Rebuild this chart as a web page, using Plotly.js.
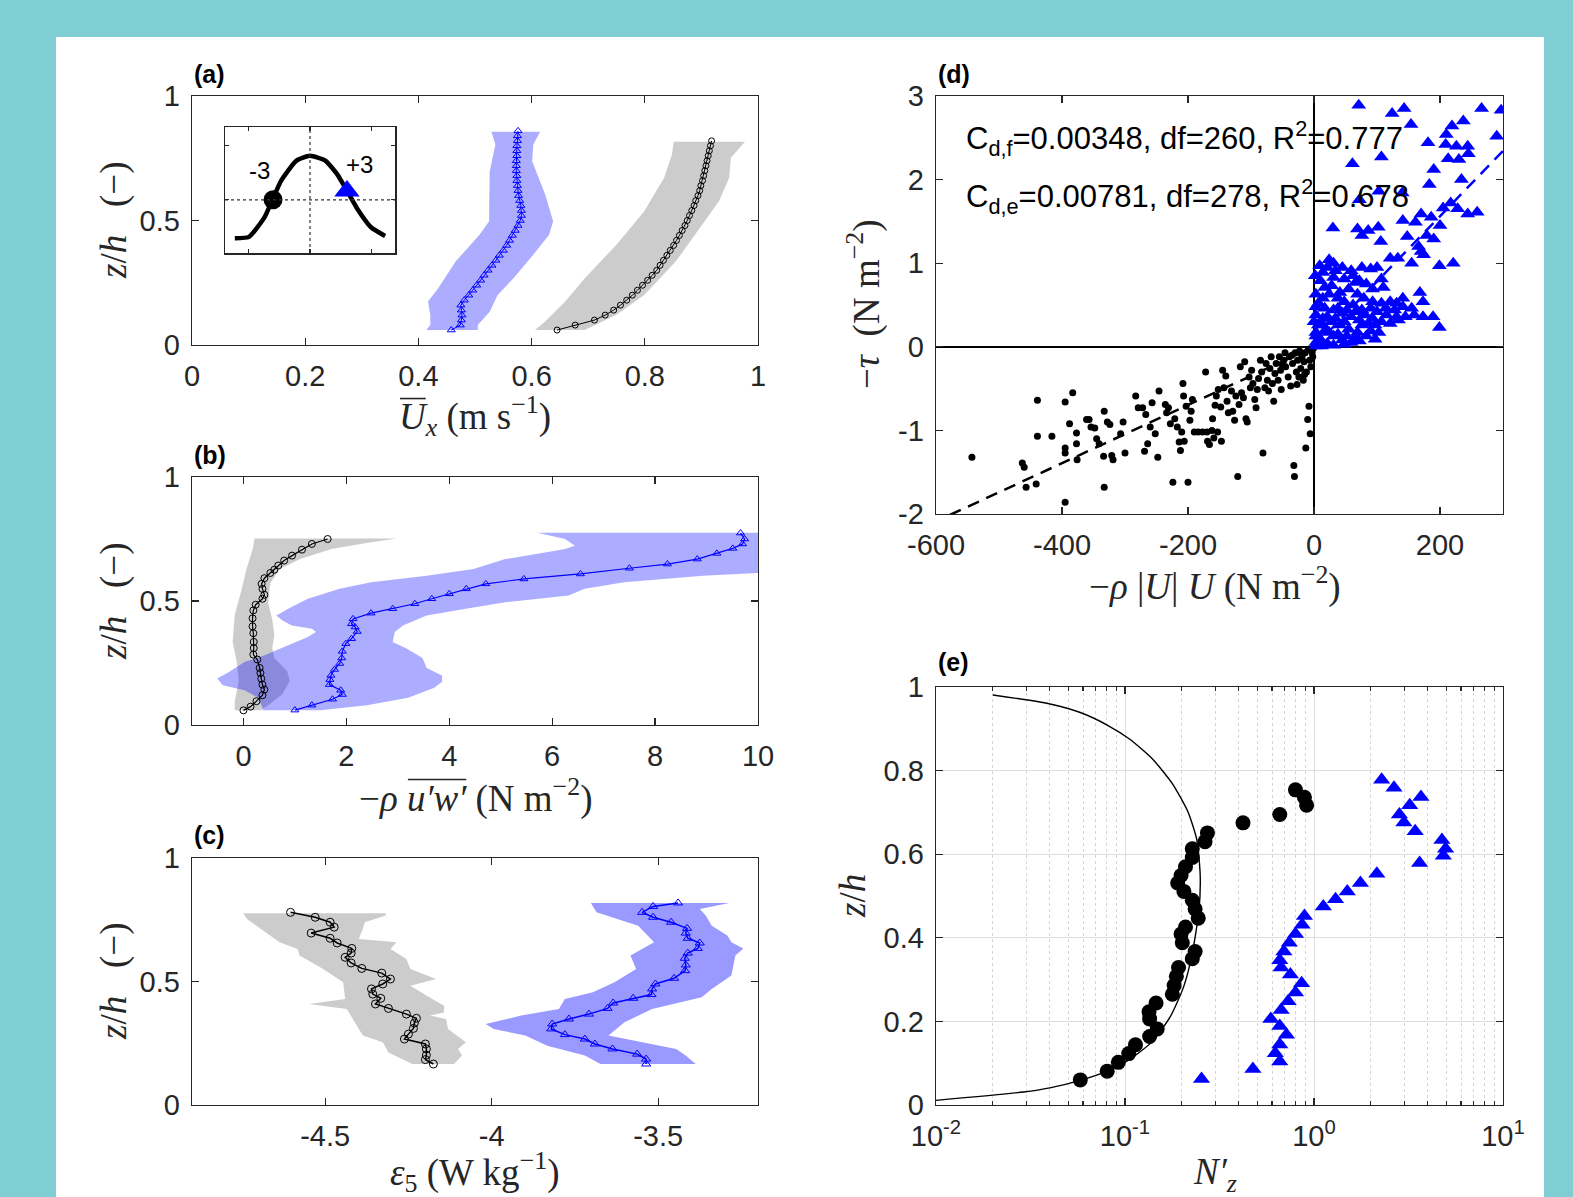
<!DOCTYPE html>
<html><head><meta charset="utf-8">
<script src="https://cdn.plot.ly/plotly-3.0.1.min.js"></script>
<style>html,body{margin:0;padding:0;background:#7fced4;overflow:hidden}</style>
</head><body><div id="chart" style="width:1573px;height:1197px"></div>
<script>
// ---------------- DATA ----------------
// Panel (a): mean streamwise velocity profiles, pairs [z/h, Ux]
const aBlack = [[0.06,0.645],[0.08,0.677],[0.10,0.711],[0.12,0.730],[0.14,0.745],[0.16,0.757],[0.18,0.768],[0.20,0.778],[0.22,0.787],[0.24,0.796],[0.26,0.805],[0.28,0.813],[0.30,0.821],[0.32,0.827],[0.34,0.833],[0.36,0.839],[0.38,0.845],[0.40,0.851],[0.42,0.856],[0.44,0.861],[0.46,0.866],[0.48,0.871],[0.50,0.875],[0.52,0.879],[0.54,0.883],[0.56,0.887],[0.58,0.890],[0.60,0.894],[0.62,0.897],[0.64,0.899],[0.66,0.902],[0.68,0.904],[0.70,0.906],[0.72,0.908],[0.74,0.910],[0.76,0.912],[0.78,0.914],[0.80,0.916],[0.82,0.918]];
const aBlue = [[0.06,0.458],[0.08,0.474],[0.10,0.476],[0.12,0.477],[0.14,0.476],[0.16,0.475],[0.18,0.481],[0.20,0.489],[0.22,0.496],[0.24,0.503],[0.26,0.510],[0.28,0.516],[0.30,0.523],[0.32,0.530],[0.34,0.537],[0.36,0.543],[0.38,0.550],[0.40,0.556],[0.42,0.561],[0.44,0.566],[0.46,0.571],[0.48,0.576],[0.50,0.580],[0.52,0.582],[0.54,0.582],[0.56,0.581],[0.58,0.579],[0.60,0.577],[0.62,0.576],[0.64,0.575],[0.66,0.574],[0.68,0.574],[0.70,0.573],[0.72,0.573],[0.74,0.573],[0.76,0.574],[0.78,0.574],[0.80,0.574],[0.82,0.575],[0.84,0.575],[0.86,0.576]];
const aGrayLo = [[0.06,0.606],[0.094,0.624],[0.174,0.659],[0.268,0.694],[0.403,0.750],[0.537,0.799],[0.671,0.834],[0.765,0.848],[0.816,0.851]];
const aGrayHi = [[0.06,0.694],[0.121,0.750],[0.201,0.799],[0.336,0.855],[0.470,0.897],[0.577,0.931],[0.671,0.949],[0.752,0.952],[0.816,0.977]];
const aBlueLo = [[0.06,0.414],[0.08,0.421],[0.12,0.421],[0.175,0.417],[0.228,0.435],[0.336,0.466],[0.443,0.508],[0.497,0.525],[0.55,0.525],[0.698,0.526],[0.805,0.536],[0.856,0.529]];
const aBlueHi = [[0.06,0.505],[0.08,0.505],[0.134,0.526],[0.201,0.540],[0.268,0.568],[0.362,0.603],[0.443,0.631],[0.497,0.638],[0.604,0.624],[0.738,0.601],[0.805,0.603],[0.856,0.615]];
// Inset of (a): tidal signal, pairs [t, value]
const insetCurve = [[-6.1,-0.88],[-4.95,-0.85],[-3.71,-0.41],[-3.08,-0.02],[-2.34,0.44],[-1.1,0.9],[0,1.01],[1.24,0.9],[2.2,0.59],[3.08,0.17],[3.85,-0.21],[4.95,-0.63],[6.1,-0.83]];
const insetFlood = [[-3,0.0]];
const insetEbb = [[3,0.2]];
const insetLabels = ['-3','+3'];

// Panel (b): Reynolds stress, pairs [z/h, -rho u'w']
const bBlack = [[0.059,0.0],[0.074,0.138],[0.096,0.253],[0.12,0.369],[0.143,0.407],[0.163,0.369],[0.187,0.346],[0.21,0.33],[0.23,0.315],[0.264,0.269],[0.284,0.192],[0.31,0.2],[0.335,0.2],[0.37,0.192],[0.398,0.177],[0.43,0.177],[0.462,0.192],[0.485,0.238],[0.509,0.369],[0.525,0.407],[0.549,0.369],[0.569,0.353],[0.592,0.407],[0.613,0.522],[0.626,0.6],[0.643,0.676],[0.663,0.791],[0.683,0.945],[0.707,1.137],[0.73,1.33],[0.75,1.636]];
const bBlue = [[0.06,1.0],[0.08,1.33],[0.104,1.73],[0.123,1.92],[0.14,1.89],[0.163,1.67],[0.183,1.68],[0.2,1.70],[0.224,1.77],[0.248,1.87],[0.27,1.91],[0.297,1.92],[0.328,1.99],[0.348,2.1],[0.377,2.21],[0.395,2.17],[0.408,2.1],[0.428,2.13],[0.451,2.48],[0.469,2.9],[0.489,3.33],[0.509,3.66],[0.529,4.0],[0.549,4.33],[0.569,4.71],[0.589,5.45],[0.609,6.55],[0.632,7.5],[0.649,8.24],[0.669,8.82],[0.692,9.2],[0.712,9.51],[0.73,9.7],[0.75,9.74],[0.774,9.66]];
const bGrayLo = [[0.059,-0.17],[0.096,-0.17],[0.177,-0.09],[0.254,-0.13],[0.335,-0.21],[0.444,-0.17],[0.535,-0.05],[0.629,0.06],[0.71,0.18],[0.752,0.215]];
const bGrayHi = [[0.059,0.33],[0.083,0.5],[0.123,0.75],[0.177,0.9],[0.217,0.85],[0.27,0.6],[0.31,0.56],[0.364,0.6],[0.425,0.56],[0.492,0.48],[0.572,0.52],[0.629,0.71],[0.669,1.1],[0.71,1.71],[0.737,2.48],[0.752,2.98]];
const bBlueLo = [[0.059,0.37],[0.07,0.37],[0.11,0.29],[0.14,0.02],[0.16,-0.4],[0.187,-0.51],[0.214,-0.28],[0.254,0.02],[0.281,0.41],[0.308,0.71],[0.335,1.02],[0.355,1.25],[0.375,1.41],[0.388,1.33],[0.401,0.94],[0.422,0.75],[0.442,0.64],[0.469,0.87],[0.509,1.25],[0.549,1.87],[0.576,2.48],[0.602,3.56],[0.629,4.47],[0.669,5.09],[0.696,5.86],[0.71,6.25],[0.723,6.44],[0.75,6.25],[0.775,5.71]];
const bBlueHi = [[0.059,1.5],[0.08,2.4],[0.11,3.2],[0.15,3.71],[0.174,3.86],[0.2,3.86],[0.23,3.56],[0.27,3.48],[0.308,3.17],[0.335,2.9],[0.375,2.94],[0.401,3.1],[0.442,3.56],[0.469,4.32],[0.495,5.09],[0.522,6.32],[0.549,6.63],[0.576,7.4],[0.602,8.93],[0.616,10.3],[0.775,10.3]];

// Panel (c): dissipation, pairs [z/h, eps]
const cBlack = [[0.166,-4.175],[0.184,-4.199],[0.202,-4.196],[0.227,-4.196],[0.247,-4.199],[0.267,-4.262],[0.287,-4.250],[0.31,-4.235],[0.332,-4.232],[0.351,-4.226],[0.368,-4.256],[0.391,-4.310],[0.409,-4.349],[0.432,-4.333],[0.449,-4.357],[0.47,-4.361],[0.49,-4.327],[0.51,-4.304],[0.534,-4.330],[0.553,-4.390],[0.575,-4.422],[0.598,-4.440],[0.615,-4.422],[0.634,-4.420],[0.656,-4.464],[0.675,-4.485],[0.696,-4.542],[0.72,-4.473],[0.74,-4.485],[0.76,-4.530],[0.78,-4.604]];
const cBlue = [[0.166,-3.536],[0.186,-3.536],[0.206,-3.563],[0.227,-3.637],[0.247,-3.690],[0.267,-3.720],[0.285,-3.780],[0.308,-3.821],[0.328,-3.818],[0.348,-3.768],[0.368,-3.708],[0.391,-3.652],[0.413,-3.635],[0.432,-3.575],[0.447,-3.520],[0.47,-3.518],[0.49,-3.508],[0.513,-3.452],[0.544,-3.419],[0.567,-3.417],[0.594,-3.420],[0.615,-3.411],[0.634,-3.381],[0.656,-3.375],[0.675,-3.411],[0.696,-3.417],[0.715,-3.413],[0.74,-3.461],[0.76,-3.515],[0.78,-3.548],[0.804,-3.515],[0.818,-3.440]];
const cGrayLo = [[0.166,-4.238],[0.213,-4.31],[0.254,-4.327],[0.281,-4.387],[0.335,-4.411],[0.389,-4.435],[0.409,-4.548],[0.429,-4.44],[0.497,-4.446],[0.551,-4.506],[0.605,-4.577],[0.632,-4.583],[0.659,-4.637],[0.699,-4.679],[0.753,-4.735],[0.776,-4.746]];
const cGrayHi = [[0.166,-4.113],[0.2,-4.089],[0.227,-4.101],[0.254,-4.077],[0.308,-4.131],[0.348,-4.137],[0.362,-4.185],[0.375,-4.143],[0.402,-4.143],[0.443,-4.196],[0.483,-4.244],[0.51,-4.167],[0.551,-4.244],[0.591,-4.256],[0.632,-4.304],[0.659,-4.286],[0.672,-4.399],[0.713,-4.387],[0.74,-4.381],[0.767,-4.318],[0.776,-4.318]];
const cBlueLo = [[0.166,-3.673],[0.2,-3.720],[0.24,-3.833],[0.281,-3.899],[0.308,-3.994],[0.328,-4.018],[0.362,-3.911],[0.389,-3.798],[0.429,-3.780],[0.456,-3.696],[0.497,-3.631],[0.551,-3.566],[0.605,-3.583],[0.659,-3.512],[0.726,-3.560],[0.78,-3.685],[0.818,-3.702]];
const cBlueHi = [[0.166,-3.387],[0.2,-3.417],[0.227,-3.446],[0.281,-3.649],[0.335,-3.601],[0.389,-3.518],[0.436,-3.369],[0.47,-3.339],[0.524,-3.280],[0.564,-3.274],[0.605,-3.268],[0.634,-3.244],[0.659,-3.280],[0.686,-3.292],[0.726,-3.339],[0.767,-3.357],[0.794,-3.375],[0.818,-3.286]];

// Panel (d): stress vs quadratic drag, pairs [-rho|U|U, -tau]
const dFlood = [[-543,-1.32],[-439,-0.64],[-439,-1.07],[-463,-1.39],[-460,-1.44],[-457,-1.68],[-441,-1.64],[-416,-1.07],[-395,-0.66],[-395,-1.86],[-395,-1.27],[-395,-1.21],[-388,-0.92],[-383,-0.55],[-377,-1.03],[-377,-1.16],[-376,-1.35],[-361,-0.87],[-357,-0.87],[-354,-0.96],[-348,-0.97],[-345,-1.10],[-341,-1.16],[-334,-1.31],[-333,-0.77],[-333,-1.68],[-328,-0.90],[-324,-0.93],[-321,-1.30],[-319,-1.35],[-307,-1.04],[-303,-0.90],[-300,-1.27],[-283,-0.59],[-279,-0.73],[-272,-0.73],[-269,-1.25],[-267,-0.81],[-264,-1.16],[-260,-0.96],[-257,-0.67],[-252,-1.04],[-248,-1.32],[-246,-0.53],[-236,-0.69],[-234,-0.79],[-231,-0.73],[-228,-0.92],[-224,-1.62],[-221,-0.86],[-217,-0.96],[-214,-1.14],[-212,-1.24],[-210,-1.02],[-208,-0.44],[-207,-0.59],[-206,-1.13],[-203,-0.71],[-200,-1.62],[-197,-0.88],[-195,-0.77],[-193,-0.63],[-190,-1.02],[-184,-1.02],[-177,-1.02],[-172,-0.30],[-170,-1.02],[-169,-1.13],[-166,-1.17],[-162,-1.00],[-161,-0.86],[-159,-1.09],[-157,-0.70],[-155,-0.59],[-153,-1.02],[-152,-0.51],[-148,-0.72],[-147,-1.13],[-145,-0.28],[-143,-0.49],[-140,-0.35],[-138,-0.65],[-136,-0.79],[-131,-0.53],[-129,-0.77],[-126,-0.88],[-124,-0.59],[-121,-1.55],[-119,-0.69],[-117,-0.24],[-115,-0.55],[-112,-0.61],[-110,-0.18],[-108,-0.86],[-106,-0.90],[-103,-0.36],[-101,-0.49],[-99,-0.28],[-97,-0.44],[-94,-0.63],[-92,-0.73],[-90,-0.51],[-88,-0.38],[-85,-0.16],[-83,-0.30],[-81,-1.27],[-78,-0.49],[-76,-0.20],[-74,-0.40],[-72,-0.53],[-70,-0.26],[-68,-0.12],[-66,-0.44],[-64,-0.65],[-62,-0.32],[-60,-0.20],[-57,-0.40],[-55,-0.12],[-53,-0.28],[-52,-0.51],[-48,-0.16],[-46,-0.07],[-45,-0.24],[-41,-0.36],[-39,-0.12],[-37,-0.47],[-34,-0.20],[-32,-1.42],[-31,-1.55],[-30,-0.07],[-28,-0.30],[-26,-0.16],[-24,-0.36],[-23,-0.05],[-21,-0.26],[-19,-0.12],[-17,-0.40],[-16,-0.18],[-14,-0.07],[-13,-1.21],[-12,-0.30],[-10,-0.87],[-9,-0.03],[-8,-0.71],[-7,-0.16],[-6,-1.04],[-5,-0.24],[-3,-0.07],[-2,-0.12],[-1,-0.02],[-20,-0.09],[-35,-0.1],[-50,-0.22],[-15,-0.33],[-27,-0.45]];
const dEbb = [[71,2.89],[124,2.79],[143,2.85],[154,2.66],[266,2.85],[297,2.83],[210,2.54],[219,2.64],[237,2.70],[290,2.52],[181,2.44],[209,2.42],[226,2.40],[244,2.40],[245,2.31],[213,2.25],[230,2.24],[107,2.27],[61,2.19],[190,2.12],[234,2.00],[183,1.94],[140,1.84],[103,1.86],[72,1.76],[217,1.72],[205,1.66],[228,1.65],[244,1.59],[259,1.61],[170,1.59],[186,1.55],[141,1.51],[161,1.49],[200,1.45],[30,1.42],[69,1.41],[86,1.39],[102,1.43],[106,1.26],[76,1.33],[148,1.32],[179,1.33],[190,1.29],[166,1.20],[170,1.14],[155,1.00],[121,1.06],[133,1.06],[174,1.10],[199,0.97],[221,1.00],[2,0.85],[14,0.89],[24,1.04],[31,1.00],[45,0.95],[59,0.91],[76,0.95],[90,0.93],[100,0.95],[10,0.79],[31,0.83],[48,0.81],[66,0.77],[83,0.75],[107,0.81],[110,0.71],[93,0.69],[69,0.63],[79,0.58],[93,0.54],[107,0.52],[121,0.54],[131,0.52],[141,0.48],[155,0.46],[168,0.65],[173,0.54],[159,0.38],[173,0.36],[189,0.36],[199,0.23],[145,0.36],[131,0.36],[115,0.38],[100,0.42],[90,0.46],[76,0.44],[62,0.50],[48,0.54],[38,0.58],[24,0.63],[14,0.58],[7,0.52],[17,0.46],[31,0.44],[45,0.40],[59,0.36],[72,0.32],[86,0.28],[97,0.26],[103,0.17],[97,0.09],[83,0.13],[69,0.17],[55,0.21],[41,0.26],[28,0.30],[14,0.34],[3,0.38],[7,0.26],[17,0.19],[31,0.13],[45,0.08],[59,0.05],[72,0.07],[10,0.09],[3,0.05],[21,0.04],[3,0.17],[10,0.28],[21,0.36],[34,0.34],[48,0.30],[3,0.48],[17,0.71],[28,0.73],[3,0.63],[38,0.46],[52,0.44],[66,0.42],[76,0.26],[90,0.19],[114,0.46],[128,0.44],[141,0.58],[41,0.65],[55,0.69],[62,0.85],[72,0.79],[34,0.91],[21,0.95],[9,0.97],[14,0.26],[0,0.30],[24,0.17],[38,0.15],[52,0.13],[66,0.11],[93,0.34],[107,0.30],[121,0.28],[134,0.32],[81,0.38],[3,0.13],[12,0.01],[31,0.02],[48,0.03],[3,0.01]];
const CdFlood = 0.00348, CdEbb = 0.00781;
const fitFloodX = [-578, 0], fitEbbX = [0, 300];
const dStats = ['C<sub>d,f</sub>=0.00348, df=260, R<sup>2</sup>=0.777', 'C<sub>d,e</sub>=0.00781, df=278, R<sup>2</sup>=0.678'];

// Panel (e): normalized buoyancy frequency, pairs [N'z, z/h]
const eModel = [[0.01,0.011],[0.029,0.031],[0.04,0.041],[0.058,0.059],[0.0805,0.081],[0.105,0.108],[0.139,0.151],[0.173,0.21],[0.204,0.282],[0.227,0.363],[0.246,0.464],[0.25,0.549],[0.24,0.634],[0.215,0.702],[0.178,0.769],[0.139,0.829],[0.106,0.875],[0.0805,0.909],[0.058,0.939],[0.0396,0.960],[0.02,0.981]];
const eFlood = [[0.058,0.060],[0.0805,0.081],[0.0922,0.102],[0.1047,0.123],[0.1136,0.144],[0.135,0.164],[0.148,0.182],[0.135,0.206],[0.134,0.223],[0.146,0.244],[0.178,0.265],[0.182,0.286],[0.187,0.308],[0.192,0.329],[0.227,0.35],[0.235,0.367],[0.201,0.388],[0.198,0.409],[0.209,0.426],[0.244,0.447],[0.235,0.469],[0.227,0.49],[0.205,0.511],[0.190,0.531],[0.198,0.549],[0.209,0.570],[0.227,0.592],[0.227,0.613],[0.265,0.63],[0.273,0.651],[0.421,0.675],[0.659,0.695],[0.914,0.717],[0.89,0.736],[0.798,0.754]];
const eEbb = [[0.254,0.062],[0.475,0.086],[0.659,0.104],[0.624,0.124],[0.659,0.145],[0.715,0.168],[0.659,0.189],[0.591,0.206],[0.67,0.227],[0.73,0.248],[0.798,0.269],[0.86,0.291],[0.75,0.312],[0.67,0.329],[0.659,0.346],[0.693,0.367],[0.74,0.388],[0.798,0.409],[0.865,0.431],[0.89,0.452],[1.12,0.475],[1.30,0.492],[1.50,0.511],[1.76,0.531],[2.15,0.553],[3.62,0.579],[4.83,0.596],[4.97,0.613],[4.75,0.634],[3.43,0.655],[2.99,0.676],[2.83,0.695],[3.21,0.717],[3.68,0.737],[2.65,0.759],[2.28,0.778]];

// Tick values / labels
const zTicks = [0, 0.5, 1], zTickText = ['0', '0.5', '1'];
const aTicks = [0, 0.2, 0.4, 0.6, 0.8, 1], aTickText = ['0', '0.2', '0.4', '0.6', '0.8', '1'];
const bTicks = [0, 2, 4, 6, 8, 10], bTickText = ['0', '2', '4', '6', '8', '10'];
const cTicks = [-4.5, -4, -3.5], cTickText = ['-4.5', '-4', '-3.5'];
const dXTicks = [-600, -400, -200, 0, 200], dXTickText = ['-600', '-400', '-200', '0', '200'];
const dYTicks = [-2, -1, 0, 1, 2, 3], dYTickText = ['-2', '-1', '0', '1', '2', '3'];
const eXTicks = [0.01, 0.1, 1, 10], eXTickText = ['10<sup>-2</sup>', '10<sup>-1</sup>', '10<sup>0</sup>', '10<sup>1</sup>'];
const eYTicks = [0, 0.2, 0.4, 0.6, 0.8, 1], eYTickText = ['0', '0.2', '0.4', '0.6', '0.8', '1'];
const insetXTicks = [-5, 0, 5], insetYTicks = [0, 1.25];
const panelLabels = ['(a)', '(b)', '(c)', '(d)', '(e)'];

// ---------------- LAYOUT HELPERS ----------------
const W = 1573, H = 1197;
const PX = v => v / W, PY = v => 1 - v / H;
const box = {
  a: {x: [192, 758], y: [96, 345]},
  b: {x: [192, 758], y: [477, 725]},
  c: {x: [192, 758], y: [858, 1105]},
  d: {x: [936, 1503], y: [96, 514]},
  e: {x: [936, 1503], y: [687, 1105]},
  i: {x: [225, 395], y: [127, 253]}
};
const domX = k => [PX(box[k].x[0]), PX(box[k].x[1])];
const domY = k => [PY(box[k].y[1]), PY(box[k].y[0])];

const INK = '#262626';
const TICKFONT = {family: 'Liberation Sans, Arial, Helvetica, sans-serif', size: 29, color: INK};
function axis(extra) {
  return Object.assign({
    showline: true, mirror: 'ticks', linecolor: INK, linewidth: 1.3,
    ticks: 'inside', ticklen: 7, tickwidth: 1.2, tickcolor: INK,
    showgrid: false, zeroline: false, tickfont: TICKFONT, fixedrange: true,
    tickmode: 'array', ticklabelstandoff: 5
  }, extra);
}
const colX = (arr, i) => arr.map(p => p[i]);
function band(lo, hi) {
  const pts = lo.concat(hi.slice().reverse());
  return {x: colX(pts, 1), y: colX(pts, 0)};
}
const BLUE = '#0000ff';
function bandTrace(lo, hi, color, xa, ya) {
  const b = band(lo, hi);
  return {x: b.x, y: b.y, xaxis: xa, yaxis: ya, type: 'scatter', mode: 'lines', fill: 'toself',
    fillcolor: color, line: {width: 0, color: color}, hoverinfo: 'skip', showlegend: false};
}
function profTrace(data, sym, color, size, lw, xa, ya) {
  return {x: colX(data, 1), y: colX(data, 0), xaxis: xa, yaxis: ya, type: 'scatter', mode: 'lines+markers',
    line: {color: color, width: lw}, marker: {symbol: sym, size: size, color: color, line: {color: color, width: 1}},
    showlegend: false};
}

const GRAYF = 'rgba(128,128,128,0.40)';
const BLUEF = 'rgba(0,0,255,0.32)';
const BLUEF_C = 'rgba(0,0,255,0.40)';

const traces = [
  // (a)
  bandTrace(aGrayLo, aGrayHi, GRAYF, 'x', 'y'),
  bandTrace(aBlueLo, aBlueHi, BLUEF, 'x', 'y'),
  profTrace(aBlack, 'circle-open', '#000000', 6, 1, 'x', 'y'),
  profTrace(aBlue, 'triangle-up-open', BLUE, 7, 1, 'x', 'y'),
  // (b)
  bandTrace(bGrayLo, bGrayHi, GRAYF, 'x2', 'y2'),
  bandTrace(bBlueLo, bBlueHi, BLUEF, 'x2', 'y2'),
  profTrace(bBlack, 'circle-open', '#000000', 7, 1.2, 'x2', 'y2'),
  profTrace(bBlue, 'triangle-up-open', BLUE, 7, 1.2, 'x2', 'y2'),
  // (c)
  bandTrace(cGrayLo, cGrayHi, GRAYF, 'x3', 'y3'),
  bandTrace(cBlueLo, cBlueHi, BLUEF_C, 'x3', 'y3'),
  profTrace(cBlack, 'circle-open', '#000000', 8, 1.5, 'x3', 'y3'),
  profTrace(cBlue, 'triangle-up-open', BLUE, 8, 1.5, 'x3', 'y3'),
  // (d)
  {x: fitFloodX, y: fitFloodX.map(v => CdFlood * v), xaxis: 'x4', yaxis: 'y4', mode: 'lines',
    line: {color: '#000000', width: 2.5, dash: '12px,8px'}, showlegend: false},
  {x: colX(dFlood, 0), y: colX(dFlood, 1), xaxis: 'x4', yaxis: 'y4', mode: 'markers',
    marker: {symbol: 'circle', size: 7, color: '#000000'}, showlegend: false},
  {x: colX(dEbb, 0), y: colX(dEbb, 1), xaxis: 'x4', yaxis: 'y4', mode: 'markers',
    marker: {symbol: 'triangle-up', size: 13, color: BLUE}, showlegend: false},
  {x: fitEbbX, y: fitEbbX.map(v => CdEbb * v), xaxis: 'x4', yaxis: 'y4', mode: 'lines',
    line: {color: BLUE, width: 2.5, dash: '12px,8px'}, showlegend: false},
  // (e)
  {x: colX(eModel, 0), y: colX(eModel, 1), xaxis: 'x5', yaxis: 'y5', mode: 'lines',
    line: {color: '#000000', width: 1.4, shape: 'spline', smoothing: 0.6}, showlegend: false},
  {x: colX(eFlood, 0), y: colX(eFlood, 1), xaxis: 'x5', yaxis: 'y5', mode: 'markers',
    marker: {symbol: 'circle', size: 15, color: '#000000'}, showlegend: false},
  {x: colX(eEbb, 0), y: colX(eEbb, 1), xaxis: 'x5', yaxis: 'y5', mode: 'markers',
    marker: {symbol: 'triangle-up', size: 15, color: BLUE}, showlegend: false},
  // inset
  {x: colX(insetCurve, 0), y: colX(insetCurve, 1), xaxis: 'x6', yaxis: 'y6', mode: 'lines',
    line: {color: '#000000', width: 4.5, shape: 'spline', smoothing: 0.5}, showlegend: false},
  {x: colX(insetFlood, 0), y: colX(insetFlood, 1), xaxis: 'x6', yaxis: 'y6', mode: 'markers',
    marker: {symbol: 'circle', size: 19, color: '#000000'}, showlegend: false},
  {x: colX(insetEbb, 0), y: colX(insetEbb, 1), xaxis: 'x6', yaxis: 'y6', mode: 'markers',
    marker: {symbol: 'triangle-up', size: 22, color: BLUE}, showlegend: false}
];

// minor tick positions for the log axis
const eMinor = [];
[0.01, 0.1, 1].forEach(d => { for (let m = 2; m <= 9; m++) eMinor.push(d * m); });

const baseShapes = [
  {type: 'rect', xref: 'paper', yref: 'paper', x0: PX(56), x1: PX(1544), y0: 0, y1: PY(37),
    fillcolor: '#ffffff', line: {width: 0}, layer: 'below'},
  {type: 'line', xref: 'x6', yref: 'y6 domain', x0: 0, x1: 0, y0: 0, y1: 1,
    line: {color: '#333333', width: 1.2, dash: 'dot'}},
  {type: 'line', xref: 'x6 domain', yref: 'y6', x0: 0, x1: 1, y0: 0, y1: 0,
    line: {color: '#333333', width: 1.2, dash: 'dot'}}
];

const layout = {
  width: W, height: H, autosize: false,
  margin: {l: 0, r: 0, t: 0, b: 0},
  paper_bgcolor: '#7fced4', plot_bgcolor: '#ffffff',
  hovermode: false, showlegend: false,
  xaxis: axis({domain: domX('a'), anchor: 'y', range: [0, 1], tickvals: aTicks, ticktext: aTickText}),
  yaxis: axis({domain: domY('a'), anchor: 'x', range: [0, 1], tickvals: zTicks, ticktext: zTickText}),
  xaxis2: axis({domain: domX('b'), anchor: 'y2', range: [-1, 10], tickvals: bTicks, ticktext: bTickText}),
  yaxis2: axis({domain: domY('b'), anchor: 'x2', range: [0, 1], tickvals: zTicks, ticktext: zTickText}),
  xaxis3: axis({domain: domX('c'), anchor: 'y3', range: [-4.9, -3.2], tickvals: cTicks, ticktext: cTickText}),
  yaxis3: axis({domain: domY('c'), anchor: 'x3', range: [0, 1], tickvals: zTicks, ticktext: zTickText}),
  xaxis4: axis({domain: domX('d'), anchor: 'y4', range: [-600, 300], tickvals: dXTicks, ticktext: dXTickText,
    zeroline: true, zerolinecolor: '#000000', zerolinewidth: 1.5}),
  yaxis4: axis({domain: domY('d'), anchor: 'x4', range: [-2, 3], tickvals: dYTicks, ticktext: dYTickText,
    zeroline: true, zerolinecolor: '#000000', zerolinewidth: 1.5}),
  xaxis5: axis({domain: domX('e'), anchor: 'y5', type: 'log', range: [-2, 1], tickvals: eXTicks, ticktext: eXTickText,
    showgrid: true, gridcolor: '#dedede', gridwidth: 1,
    minor: {tickmode: 'array', tickvals: eMinor, ticks: 'inside', ticklen: 4, tickcolor: INK,
      showgrid: true, gridcolor: '#d6d6d6', griddash: 'dot', gridwidth: 1}}),
  yaxis5: axis({domain: domY('e'), anchor: 'x5', range: [0, 1], tickvals: eYTicks, ticktext: eYTickText,
    showgrid: true, gridcolor: '#dedede', gridwidth: 1}),
  xaxis6: axis({domain: domX('i'), anchor: 'y6', range: [-6.9, 6.9], tickvals: insetXTicks,
    showticklabels: false, ticklen: 4, linewidth: 1.5}),
  yaxis6: axis({domain: domY('i'), anchor: 'x6', range: [-1.22, 1.67], tickvals: insetYTicks,
    showticklabels: false, ticklen: 4, linewidth: 1.5}),
  shapes: baseShapes.slice(),
  annotations: []
};

const ann = layout.annotations;
const SERIF = 'Liberation Serif, Times New Roman, serif';
const TFONT = {family: SERIF, size: 37, color: INK};
function addA(text, x, y, opts) {
  ann.push(Object.assign({text: text, xref: 'paper', yref: 'paper', x: PX(x), y: PY(y),
    showarrow: false, xanchor: 'center', yanchor: 'middle', font: TFONT}, opts || {}));
  return ann.length - 1;
}
// panel labels
const LBLFONT = {family: 'Liberation Sans, Arial, sans-serif', size: 25, color: '#000000'};
const lblPos = [[192, 74], [192, 455], [192, 835], [936, 74], [936, 662]];
panelLabels.forEach((t, i) => addA('<b>' + t + '</b>', lblPos[i][0], lblPos[i][1], {xanchor: 'left', font: LBLFONT}));
// axis titles (overlines over U_x and u'w' are added after measuring the rendered glyphs)
const idxA = addA('<i>U</i><sub><i>x</i></sub> (m s<sup>−1</sup>)', 475, 416);
const idxB = addA('−<i>ρ</i> <i>u′w′</i> (N m<sup>−2</sup>)', 475, 796);
addA('<i>ε</i><sub>5</sub> (W kg<sup>−1</sup>)', 475, 1172);
addA('−<i>ρ</i> |<i>U</i>| <i>U</i> (N m<sup>−2</sup>)', 1215, 584);
addA('<i>N′</i><sub><i>z</i></sub>', 1215, 1174);
const zTitle = '<i>z</i>/<i>h</i>   (−)';
addA(zTitle, 114, 220, {textangle: -90});
addA(zTitle, 114, 601, {textangle: -90});
addA(zTitle, 114, 981, {textangle: -90});
addA('−<i>τ</i>  (N m<sup>−2</sup>)', 864, 304, {textangle: -90});
addA('<i>z</i>/<i>h</i>', 852, 896, {textangle: -90});
// fit statistics in (d)
const STATFONT = {family: 'Liberation Sans, Arial, sans-serif', size: 31, color: '#000000'};
addA(dStats[0], 964, 138, {xanchor: 'left', font: STATFONT});
addA(dStats[1], 964, 196, {xanchor: 'left', font: STATFONT});
// inset labels
const INSFONT = {family: 'Liberation Sans, Arial, sans-serif', size: 24, color: '#000000'};
ann.push({text: insetLabels[0], xref: 'x6', yref: 'y6', x: -4.1, y: 0.67, showarrow: false, font: INSFONT});
ann.push({text: insetLabels[1], xref: 'x6', yref: 'y6', x: 4.0, y: 0.8, showarrow: false, font: INSFONT});

// overline over a run of characters of an annotation, measured from the rendered text
function overline(idx, c0, c1, dy) {
  const g = document.querySelector('.annotation[data-index="' + idx + '"] text.annotation-text');
  if (!g) return null;
  try {
    const r0 = g.getExtentOfChar(c0), r1 = g.getExtentOfChar(c1);
    const m = g.getScreenCTM();
    const svg = g.ownerSVGElement;
    const p = svg.createSVGPoint();
    p.x = r0.x; p.y = r0.y; const a = p.matrixTransform(m);
    p.x = r1.x + r1.width; p.y = r0.y; const b = p.matrixTransform(m);
    const y = a.y + dy;
    return {type: 'line', xref: 'paper', yref: 'paper', x0: PX(a.x + 1), x1: PX(b.x), y0: PY(y), y1: PY(y),
      line: {color: INK, width: 1.6}};
  } catch (e) { return null; }
}

Plotly.newPlot('chart', traces, layout, {displayModeBar: false, staticPlot: true}).then(gd => {
  const extra = [overline(idxA, 0, 1, 3), overline(idxB, 3, 6, 2)].filter(Boolean);
  if (extra.length) Plotly.relayout(gd, {shapes: baseShapes.concat(extra)});
});
</script></body></html>
